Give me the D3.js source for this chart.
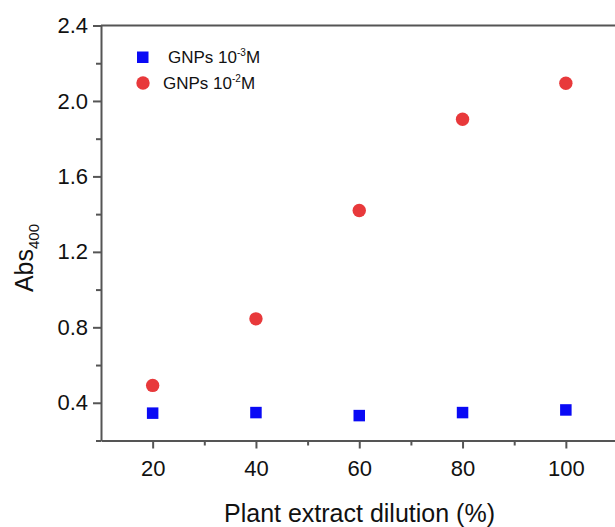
<!DOCTYPE html>
<html lang="en">
<head>
    <meta charset="UTF-8">
    <title>Abs400 vs plant extract dilution</title>
    <script src="https://d3js.org/d3.v7.min.js"></script>
    <style>
        html, body { margin: 0; background: #fff; overflow: hidden; }
        svg { display: block; }
        text { font-family: "Liberation Sans", Arial, sans-serif; fill: #111; }
    </style>
</head>
<body>
    <svg width="615" height="527"></svg>
    <script>
        // data
        const dilution = [20, 40, 60, 80, 100];
        const gnps3 = [0.345, 0.348, 0.332, 0.348, 0.362];   // GNPs 10^-3 M
        const gnps2 = [0.492, 0.845, 1.419, 1.903, 2.094];   // GNPs 10^-2 M
        const xTicks = [20, 40, 60, 80, 100];
        const yTicks = [0.4, 0.8, 1.2, 1.6, 2.0, 2.4];

        const svg = d3.select("svg");

        const plotLeft = 101, plotRight = 617.5, plotTop = 25.5, plotBottom = 440.5;

        const x = d3.scaleLinear().domain([10, 110]).range([plotLeft, plotRight]);
        const y = d3.scaleLinear().domain([0.2, 2.4]).range([plotBottom, plotTop]);

        const axisColor = "#555";

        // minor ticks
        svg.append("g")
            .attr("transform", `translate(0,${plotBottom})`)
            .call(d3.axisBottom(x).tickValues([30, 50, 70, 90]).tickSize(5).tickFormat(""))
            .call(g => g.select(".domain").remove())
            .call(g => g.selectAll("line").attr("stroke", axisColor).attr("stroke-width", 2));

        svg.append("g")
            .attr("transform", `translate(${plotLeft},0)`)
            .call(d3.axisLeft(y).tickValues([0.2, 0.6, 1.0, 1.4, 1.8, 2.2]).tickSize(5).tickFormat(""))
            .call(g => g.select(".domain").remove())
            .call(g => g.selectAll("line").attr("stroke", axisColor).attr("stroke-width", 2));

        // major axes
        const xAxis = svg.append("g")
            .attr("transform", `translate(0,${plotBottom})`)
            .call(d3.axisBottom(x).tickValues(xTicks).tickSize(8).tickSizeOuter(0).tickPadding(12));

        const yAxis = svg.append("g")
            .attr("transform", `translate(${plotLeft},0)`)
            .call(d3.axisLeft(y).tickValues(yTicks).tickSize(8).tickSizeOuter(0).tickPadding(5)
                .tickFormat(d3.format(".1f")));

        [xAxis, yAxis].forEach(g => {
            g.attr("font-family", null);
            g.select(".domain").attr("stroke", axisColor).attr("stroke-width", 2);
            g.selectAll(".tick line").attr("stroke", axisColor).attr("stroke-width", 2);
            g.selectAll(".tick text")
                .attr("fill", "#111")
                .style("font-size", "22px");
        });

        // top frame line
        svg.append("line")
            .attr("x1", x(10)).attr("x2", x(110))
            .attr("y1", y(2.4)).attr("y2", y(2.4))
            .attr("stroke", axisColor).attr("stroke-width", 2);

        // points
        const sq = 11.5;
        svg.append("g").selectAll("rect")
            .data(dilution)
            .join("rect")
            .attr("x", d => x(d) - sq / 2)
            .attr("y", (d, i) => y(gnps3[i]) - sq / 2)
            .attr("width", sq).attr("height", sq)
            .attr("fill", "#0a0af5");

        svg.append("g").selectAll("circle")
            .data(dilution)
            .join("circle")
            .attr("cx", d => x(d))
            .attr("cy", (d, i) => y(gnps2[i]))
            .attr("r", 6.7)
            .attr("fill", "#e8393b");

        // legend
        svg.append("rect")
            .attr("x", 137).attr("y", 51.5).attr("width", sq).attr("height", sq)
            .attr("fill", "#0a0af5");
        svg.append("circle")
            .attr("cx", 143).attr("cy", 83).attr("r", 6.7)
            .attr("fill", "#e8393b");

        function legendText(xp, yp, exp) {
            const t = svg.append("text").attr("x", xp).attr("y", yp).style("font-size", "17px");
            t.append("tspan").text("GNPs 10");
            t.append("tspan").attr("dy", -7).style("font-size", "10px").text(exp);
            t.append("tspan").attr("dy", 7).text("M");
        }
        legendText(168, 63, "-3");
        legendText(163, 89, "-2");

        // axis titles
        svg.append("text")
            .attr("x", (214 + 505) / 2).attr("y", 522)
            .attr("text-anchor", "middle")
            .style("font-size", "25px")
            .text("Plant extract dilution (%)");

        const yl = svg.append("text")
            .attr("transform", "translate(33,258) rotate(-90)")
            .attr("text-anchor", "middle")
            .style("font-size", "25px");
        yl.append("tspan").text("Abs");
        yl.append("tspan").attr("dy", 6).style("font-size", "15px").text("400");

        // keep the right edge of the plot area clean
        svg.append("rect")
            .attr("x", 608).attr("y", plotTop + 2)
            .attr("width", 10).attr("height", plotBottom - plotTop - 4)
            .attr("fill", "#fff");
    </script>
</body>
</html>
